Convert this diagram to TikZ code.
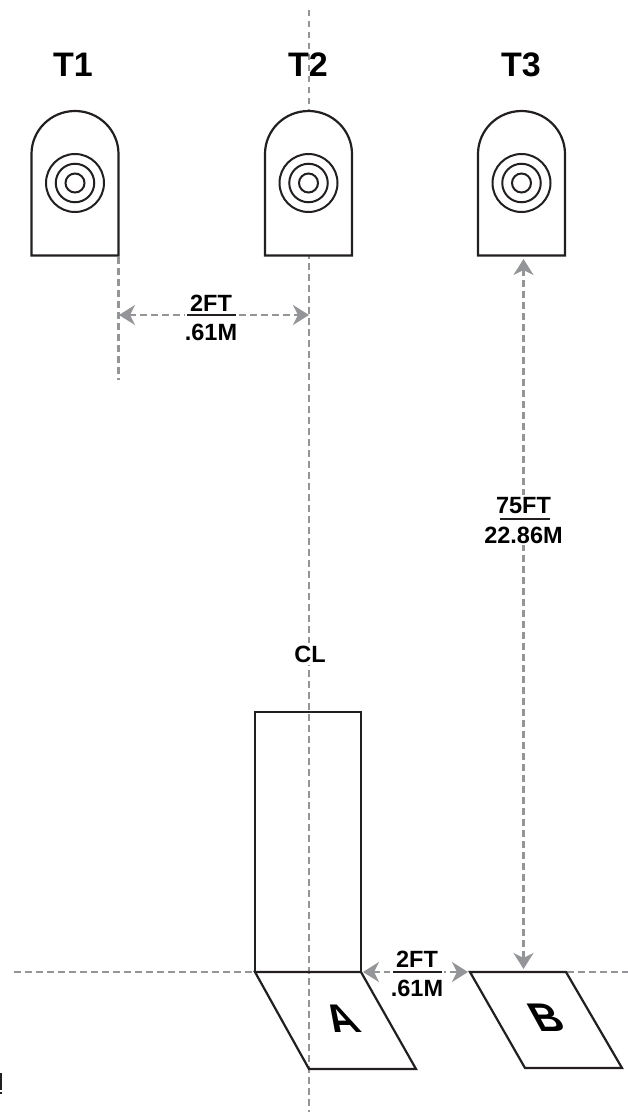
\documentclass[tikz,border=0pt]{standalone}
\usepackage{fontspec}
\setmainfont{Liberation Sans}
\usetikzlibrary{arrows.meta}
\definecolor{dimgray}{HTML}{939598}
\definecolor{inkc}{HTML}{231F20}
\tikzset{
  x=1pt,y=-1pt,
  outline/.style={draw=inkc,line width=2.2pt,fill=white,line join=miter},
  lanebox/.style={draw=inkc,line width=2.2pt,line join=miter},
  ring/.style={draw=inkc,line width=2pt,circle,inner sep=0pt,fill=none},
  dashline/.style={draw=dimgray,line width=2.5pt,dash pattern=on 6.5pt off 4.5pt},
  dimline/.style={dashline,{Stealth[length=16pt,width=20pt,inset=5pt,fill=dimgray,sep=0pt]}-{Stealth[length=16pt,width=20pt,inset=5pt,fill=dimgray,sep=0pt]}},
  title/.style={font=\bfseries\fontsize{34}{34}\selectfont,inner sep=0pt},
  dimtext/.style={font=\bfseries\fontsize{23.5}{24}\selectfont,inner sep=0pt,text=black},
  letter/.style={font=\bfseries\fontsize{40}{40}\selectfont,inner sep=0pt,transform shape,xslant=-0.55},
  fracbar/.style={draw=inkc,line width=1.5pt},
}
\newcommand{\targetshape}[2]{%
  \draw[outline] (#1-43.5,255.5) -- (#1+43.5,255.5) -- (#1+43.5,154) arc[start angle=0,end angle=180,x radius=43.5pt,y radius=43pt] -- cycle;
  \node[ring,minimum size=58pt] (#2r3) at (#1,183) {};
  \node[ring,minimum size=38.5pt] (#2r2) at (#1,183) {};
  \node[ring,minimum size=19pt] (#2r1) at (#1,183) {};
}
\begin{document}
\begin{tikzpicture}
\useasboundingbox (0,0) rectangle (628,1118);
% centre line and base line
\coordinate (cltop) at (309,10);
\coordinate (clbot) at (309,1112);
\coordinate (hleft) at (14,972);
\coordinate (hlefte) at (255,972);
\coordinate (hright) at (628,972);
\coordinate (hrights) at (567,972);
\draw[dashline] (cltop) -- (clbot);
\draw[dashline] (hleft) -- (hlefte);
\draw[dashline] (hrights) -- (hright);
% targets
\targetshape{75}{ta}
\targetshape{308.5}{tb}
\targetshape{521.5}{tc}
\node[title] (t1) at (73,65) {T1};
\node[title] (t2) at (308,65) {T2};
\node[title] (t3) at (521,65) {T3};
% T1 extension
\coordinate (e1) at (118.5,257);
\coordinate (e2) at (118.5,380);
\draw[dashline] (e1) -- (e2);
% lane box and firing points
\draw[lanebox] (255,712) rectangle (361,972);
\draw[lanebox] (255,972) -- (361,972) -- (416,1069) -- (309,1069) -- cycle;
\draw[lanebox,fill=white] (470,972) -- (566,972) -- (622,1068) -- (525,1068) -- cycle;
\node[letter] (la) at (341,1018.5) {A};
\node[letter] (lb) at (546,1018) {B};
% edge remnant
\fill[inkc] (0,1073) rectangle (1.5,1090);
\fill[inkc] (0,1091.5) rectangle (1.5,1094);
% dimension arrows
\coordinate (d1a) at (119,315);
\coordinate (d1b) at (309,315);
\coordinate (d2a) at (523.5,259);
\coordinate (d2b) at (523.5,969);
\coordinate (d3a) at (363,972);
\coordinate (d3b) at (468,972);
\draw[dimline] (d1a) -- (d1b);
\draw[dimline] (d2a) -- (d2b);
\draw[dimline] (d3a) -- (d3b);
% labels
\node[dimtext,fill=white,minimum width=52pt,minimum height=50pt] (lab1) at (211,316) {};
\node[dimtext] (f1) at (211,303) {2FT};
\node[dimtext] (m1) at (211,332) {.61M};
\draw[fracbar] (187,315) -- (236,315);
\node[dimtext,fill=white,minimum width=84pt,minimum height=50pt] (lab2) at (523.5,520) {};
\node[dimtext] (f2) at (523.5,506) {75FT};
\node[dimtext] (m2) at (523.5,535) {22.86M};
\draw[fracbar] (500,519) -- (550,519);
\node[dimtext,fill=white,minimum width=54pt,minimum height=50pt] (lab3) at (417,973) {};
\node[dimtext] (f3) at (417,959) {2FT};
\node[dimtext] (m3) at (417,988) {.61M};
\draw[fracbar] (393,972) -- (442,972);
\node[dimtext,fill=white,inner sep=3pt] (cl) at (310,654) {CL};
\end{tikzpicture}
\end{document}
